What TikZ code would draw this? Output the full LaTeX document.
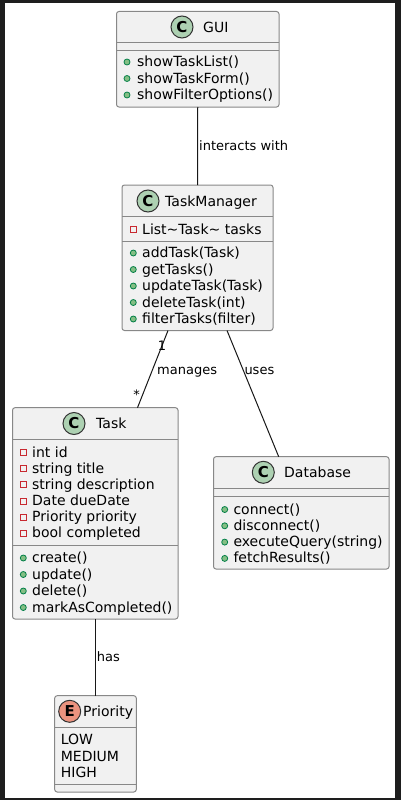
\documentclass[tikz,border=0pt]{standalone}
\usepackage{fontspec}
\setmainfont{DejaVu Sans}
\definecolor{frame}{HTML}{1E1E1E}
\definecolor{boxfill}{HTML}{F1F1F1}
\definecolor{boxline}{HTML}{888888}
\definecolor{circline}{HTML}{333333}
\definecolor{classgreen}{HTML}{ADD1B2}
\definecolor{enumred}{HTML}{EB937F}
\definecolor{pubfill}{HTML}{84BE84}
\definecolor{pubdraw}{HTML}{038048}
\definecolor{privdraw}{HTML}{C82930}
\definecolor{linecol}{HTML}{181818}
\tikzset{
 box/.style={draw=boxline, fill=boxfill, rounded corners=2.5pt, line width=1pt, inner sep=0pt, outer sep=0pt},
 sepline/.style={draw=boxline, line width=1pt},
 mem/.style={anchor=base west, inner sep=0pt, font=\fontsize{14}{16}\selectfont},
 lbl/.style={anchor=base west, inner sep=0pt, font=\fontsize{13}{15}\selectfont},
 cls/.style={circle, draw=circline, fill=classgreen, minimum size=22pt, inner sep=0pt, line width=1pt, font=\bfseries\fontsize{15}{15}\selectfont},
 enm/.style={cls, fill=enumred},
 pub/.style={circle, draw=pubdraw, fill=pubfill, minimum size=6pt, inner sep=0pt, line width=0.8pt},
 priv/.style={rectangle, draw=privdraw, minimum size=6pt, inner sep=0pt, line width=1pt},
 conn/.style={draw=linecol, line width=1pt}
}
\begin{document}
\begin{tikzpicture}[x=1pt,y=-1pt]
\useasboundingbox (0,0) rectangle (401,800);
\fill[frame] (0,0) rectangle (401,800);
\fill[white] (5,3.5) rectangle (395,797.7);

% GUI
\node[box, minimum width=162.5pt, minimum height=95.5pt] (gui) at (197.75,59.25) {};
\node[cls] (guic) at (182,27) {C};
\node[mem] (guin) at (203,32.3) {GUI};
\draw[sepline] (gui.west |- 0,43) -- (gui.east |- 0,43);
\draw[sepline] (gui.west |- 0,51) -- (gui.east |- 0,51);
\node[pub] (gb1) at (127,62) {};
\node[mem] (gm1) at (137,66.5) {showTaskList()};
\node[pub] (gb2) at (127,78.5) {};
\node[mem] (gm2) at (137,83) {showTaskForm()};
\node[pub] (gb3) at (127,95) {};
\node[mem] (gm3) at (137,99.5) {showFilterOptions()};

% TaskManager
\node[box, minimum width=151pt, minimum height=145.5pt] (tm) at (197.5,257.75) {};
\node[cls] (tmc) at (148,201) {C};
\node[mem] (tmn) at (165,206) {TaskManager};
\draw[sepline] (tm.west |- 0,216.7) -- (tm.east |- 0,216.7);
\node[priv] (tb0) at (133,229.5) {};
\node[mem] (ta1) at (142,234) {List\textasciitilde Task\textasciitilde{} tasks};
\draw[sepline] (tm.west |- 0,241.3) -- (tm.east |- 0,241.3);
\node[pub] (tb1) at (133.3,253) {};
\node[mem] (tm1) at (142,257.5) {addTask(Task)};
\node[pub] (tb2) at (133.3,269.5) {};
\node[mem] (tm2) at (142,274) {getTasks()};
\node[pub] (tb3) at (133.3,286) {};
\node[mem] (tm3) at (142,290.5) {updateTask(Task)};
\node[pub] (tb4) at (133.3,302.5) {};
\node[mem] (tm4) at (142,307) {deleteTask(int)};
\node[pub] (tb5) at (133.3,319) {};
\node[mem] (tm5) at (142,323.5) {filterTasks(filter)};

% Task
\node[box, minimum width=165.5pt, minimum height=211.3pt] (task) at (95.25,513.35) {};
\node[cls] (tkc) at (74,423.5) {C};
\node[mem] (tkn) at (96,428.5) {Task};
\draw[sepline] (task.west |- 0,439) -- (task.east |- 0,439);
\node[priv] (kp1) at (23.3,452.7) {};
\node[mem] (ka1) at (32,457) {int id};
\node[priv] (kp2) at (23.3,468.8) {};
\node[mem] (ka2) at (32,473.1) {string title};
\node[priv] (kp3) at (23.3,484.9) {};
\node[mem] (ka3) at (32,489.2) {string description};
\node[priv] (kp4) at (23.3,501) {};
\node[mem] (ka4) at (32,505.3) {Date dueDate};
\node[priv] (kp5) at (23.3,517.1) {};
\node[mem] (ka5) at (32,521.4) {Priority priority};
\node[priv] (kp6) at (23.3,533.2) {};
\node[mem] (ka6) at (32,537.5) {bool completed};
\draw[sepline] (task.west |- 0,545.3) -- (task.east |- 0,545.3);
\node[pub] (kb1) at (23.3,558) {};
\node[mem] (km1) at (32,562.5) {create()};
\node[pub] (kb2) at (23.3,574.5) {};
\node[mem] (km2) at (32,579) {update()};
\node[pub] (kb3) at (23.3,591) {};
\node[mem] (km3) at (32,595.5) {delete()};
\node[pub] (kb4) at (23.3,607.5) {};
\node[mem] (km4) at (32,612) {markAsCompleted()};

% Database
\node[box, minimum width=175.5pt, minimum height=112.3pt] (db) at (301.25,512.85) {};
\node[cls] (dbc) at (263.3,472.3) {C};
\node[mem] (dbn) at (284,477.5) {Database};
\draw[sepline] (db.west |- 0,488.3) -- (db.east |- 0,488.3);
\draw[sepline] (db.west |- 0,496) -- (db.east |- 0,496);
\node[pub] (db1) at (224.7,509.5) {};
\node[mem] (dm1) at (233.3,514) {connect()};
\node[pub] (db2) at (224.7,525.8) {};
\node[mem] (dm2) at (233.3,530.3) {disconnect()};
\node[pub] (db3) at (224.7,542.1) {};
\node[mem] (dm3) at (233.3,546.6) {executeQuery(string)};
\node[pub] (db4) at (224.7,558.4) {};
\node[mem] (dm4) at (233.3,562.9) {fetchResults()};

% Priority
\node[box, minimum width=81.6pt, minimum height=96.3pt] (pri) at (95.5,743.85) {};
\node[enm] (prc) at (69.7,711.3) {E};
\node[mem] (prn) at (83,716.5) {Priority};
\draw[sepline] (pri.west |- 0,727.7) -- (pri.east |- 0,727.7);
\node[mem] (pv1) at (60.7,744.3) {LOW};
\node[mem] (pv2) at (60.7,761) {MEDIUM};
\node[mem] (pv3) at (60.7,777) {HIGH};
\draw[sepline] (pri.west |- 0,784.3) -- (pri.east |- 0,784.3);

% connectors
\draw[conn] (gui.south) -- (tm.north);
\node[lbl] (l1) at (199,150.5) {interacts with};
\draw[conn] (tm.south -| 168,0) -- (task.north -| 137.5,0);
\node[lbl] (l2) at (157,374.5) {manages};
\node[lbl, anchor=base] (m1) at (162,350.7) {1};
\node[lbl, anchor=base] (m2) at (136.7,399.5) {*};
\draw[conn] (tm.south -| 227,0) -- (db.north -| 278.7,0);
\node[lbl] (l3) at (244.3,374.5) {uses};
\draw[conn] (task.south -| 95.7,0) -- (pri.north -| 95.7,0);
\node[lbl] (l4) at (96.7,661.7) {has};
\end{tikzpicture}
\end{document}
